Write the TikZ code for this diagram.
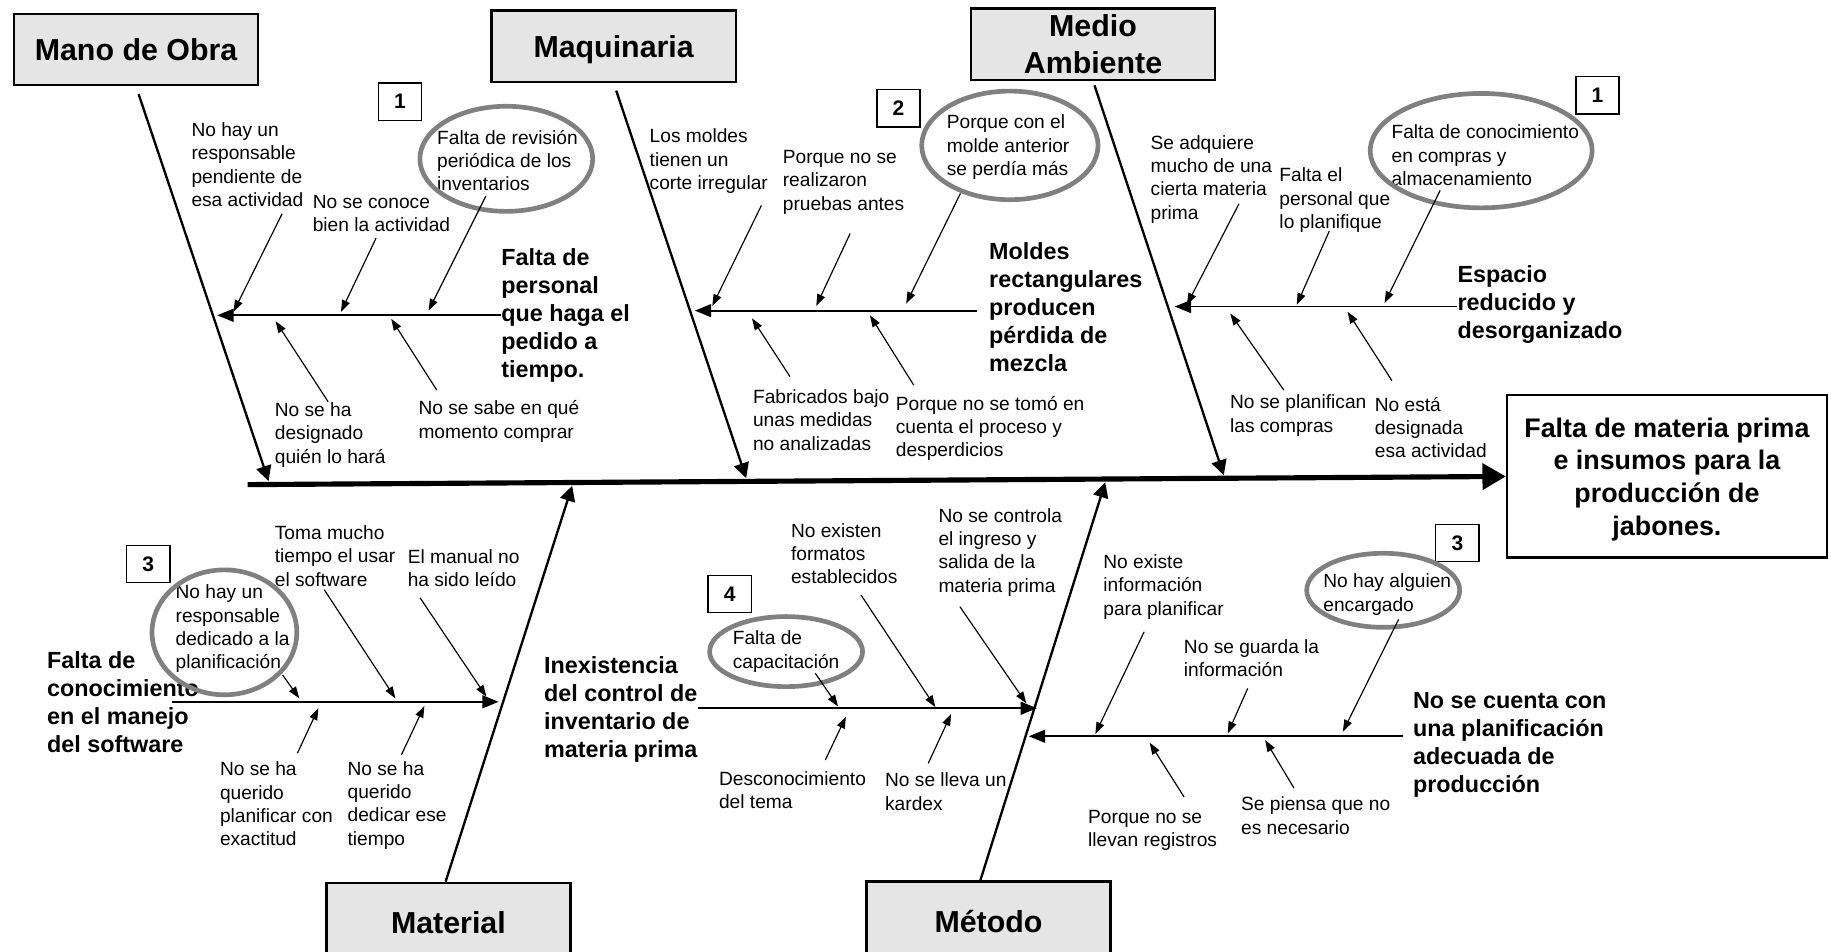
\documentclass[tikz,border=0pt]{standalone}
\usepackage{fontspec}
\setmainfont{Liberation Sans}
\usetikzlibrary{arrows.meta}
\tikzstyle{category} = [rectangle, draw, line width=1pt, fill=black!10, minimum width=104.5pt,
    minimum height=30.5pt, inner sep=0pt, text depth=0pt, align=center, font=\fontsize{13}{15.5}\selectfont\bfseries]
\tikzstyle{effect} = [rectangle, draw, line width=1pt, minimum width=137pt, minimum height=69.5pt,
    inner sep=0pt, text depth=0pt, align=center, font=\fontsize{11.5}{14}\selectfont\bfseries]
\tikzstyle{subcause} = [anchor=west, inner sep=0pt, align=left, font=\fontsize{10}{12}\selectfont\bfseries]
\tikzstyle{cause} = [anchor=west, inner sep=0pt, align=left, font=\fontsize{8.2}{10}\selectfont]
\tikzstyle{tag} = [rectangle, draw, line width=0.6pt, minimum width=18.5pt, minimum height=16pt,
    inner sep=0pt, font=\fontsize{9}{10}\selectfont\bfseries]
\tikzstyle{ring} = [draw=black!50, line width=2pt]
\tikzstyle{spine} = [draw, line width=2.2pt, -{Triangle[length=10pt,width=11pt]}]
\tikzstyle{bone} = [draw, line width=1pt, -{Triangle[length=6.5pt,width=6.5pt]}]
\tikzstyle{branch} = [draw, line width=0.8pt, -{Triangle[length=7pt,width=5.5pt]}]
\tikzstyle{twig} = [draw, line width=0.5pt, -{Triangle[length=5pt,width=3.5pt]}]
\begin{document}
\begin{tikzpicture}[x=0.5pt, y=-0.5pt]
\useasboundingbox (0,0) rectangle (1568,815);

%% Place category boxes and the problem
\node [category] (manoObra) at (116.5,42.5) {Mano de Obra};
\node [category] (maquinaria) at (525.5,39.5) {Maquinaria};
\node [category] (medioAmbiente) at (936,37.75) {Medio\\Ambiente};
\node [category, minimum height=34pt] (material) at (384,790) {Material};
\node [category, minimum height=34pt] (metodo) at (846.5,789) {Método};
\node [effect] (problema) at (1427.5,408) {Falta de materia prima\\e insumos para la\\producción de\\jabones.};

%% Spine and main bones
\coordinate (spineStart) at (212,415);
\coordinate (manoTip) at (230,412);
\coordinate (maquinariaTip) at (639,409.5);
\coordinate (medioTip) at (1048,407);
\coordinate (materialTip) at (490,416);
\coordinate (metodoTip) at (946.5,413);
\path [spine] (spineStart) -- (problema.west);
\path [bone, shorten <=3.5pt] (manoObra.south) -- (manoTip);
\path [bone, shorten <=3.5pt] (maquinaria.south) -- (maquinariaTip);
\path [bone, shorten <=2pt] (medioAmbiente.south) -- (medioTip);
\path [bone] ([xshift=-1.2pt]material.north) -- (materialTip);
\path [bone] ([xshift=-3.5pt]metodo.north) -- (metodoTip);

%% Mano de Obra
\coordinate (personalTip) at (186,270);
\node [subcause] (personal) at (429,270) {Falta de\\personal\\que haga el\\pedido a\\tiempo.};
\node [cause] (noResponsable) at (163.6,141) {No hay un\\responsable\\pendiente de\\esa actividad};
\node [cause] (noConoce) at (267.5,183) {No se conoce\\bien la actividad};
\node [cause] (revision) at (374,137.5) {Falta de revisión\\periódica de los\\inventarios};
\node [cause] (noDesignado) at (235,372.5) {No se ha\\designado\\quién lo hará};
\node [cause] (noSabe) at (358,361) {No se sabe en qué\\momento comprar};
\node [tag] (tagManoObra) at (342.5,87) {1};
\draw [ring] ([shift={(-1,-1.5)}]revision.center) ellipse [x radius=37pt, y radius=22.5pt];
\path [branch] (personal.west |- personalTip) -- (personalTip);
\path [twig] ([shift={(78,42)}]noResponsable.west) -- ([shift={(14,-3)}]personalTip);
\path [twig] ([shift={(54.5,21)}]noConoce.west) -- ([shift={(106,-3)}]personalTip);
\path [twig] ([shift={(42,30.5)}]revision.west) -- ([shift={(181,-4)}]personalTip);
\path [twig] ([shift={(46,-28.5)}]noDesignado.west) -- ([shift={(50,5)}]personalTip);
\path [twig] ([shift={(16,-27)}]noSabe.west) -- ([shift={(149,3)}]personalTip);

%% Maquinaria
\coordinate (moldesTip) at (595,266);
\node [subcause] (moldes) at (846.7,263) {Moldes\\rectangulares\\producen\\pérdida de\\mezcla};
\node [cause] (corte) at (556,138) {Los moldes\\tienen un\\corte irregular};
\node [cause] (noPruebas) at (670,156) {Porque no se\\realizaron\\pruebas antes};
\node [cause] (moldeAnterior) at (810.5,126) {Porque con el\\molde anterior\\se perdía más};
\node [cause] (medidas) at (644.5,359.5) {Fabricados bajo\\unas medidas\\no analizadas};
\node [cause] (noProceso) at (766.8,367) {Porque no se tomó en\\cuenta el proceso y\\desperdicios};
\node [tag] (tagMaquinaria) at (769.5,92.7) {2};
\draw [ring] ([shift={(1.5,-1.5)}]moldeAnterior.center) ellipse [x radius=37.75pt, y radius=23.25pt];
\path [branch, shorten <=5pt] (moldes.west |- moldesTip) -- (moldesTip);
\path [twig] ([shift={(96,38)}]corte.west) -- ([shift={(15,-4)}]moldesTip);
\path [twig] ([shift={(58,44)}]noPruebas.west) -- ([shift={(104,-4)}]moldesTip);
\path [twig] ([shift={(12,39.6)}]moldeAnterior.west) -- ([shift={(181,-6)}]moldesTip);
\path [twig] ([shift={(32,-37)}]medidas.west) -- ([shift={(49,6.6)}]moldesTip);
\path [twig] ([shift={(15.6,-37.3)}]noProceso.west) -- ([shift={(150,4)}]moldesTip);

%% Medio Ambiente
\coordinate (espacioTip) at (1006,262.5);
\node [subcause] (espacio) at (1247.8,261) {Espacio\\reducido y\\desorganizado};
\node [cause] (adquiere) at (985,153.5) {Se adquiere\\mucho de una\\cierta materia\\prima};
\node [cause] (faltaPersonal) at (1095.3,171.5) {Falta el\\personal que\\lo planifique};
\node [cause] (compras) at (1191.3,133) {Falta de conocimiento\\en compras y\\almacenamiento};
\node [cause] (noPlanifican) at (1053,356) {No se planifican\\las compras};
\node [cause] (noDesignada) at (1177,366) {No está\\designada\\esa actividad};
\node [tag] (tagMedio) at (1368,81.6) {1};
\draw [ring] ([shift={(-3.5,-4)}]compras.center) ellipse [x radius=47.5pt, y radius=24.5pt];
\path [branch] (espacio.west |- espacioTip) -- (espacioTip);
\path [twig] ([shift={(76,21)}]adquiere.west) -- ([shift={(10.4,-1.5)}]espacioTip);
\path [twig] ([shift={(43,26.5)}]faltaPersonal.west) -- ([shift={(104.5,-1.5)}]espacioTip);
\path [twig] ([shift={(42,30)}]compras.west) -- ([shift={(179.7,-3)}]espacioTip);
\path [twig] ([shift={(46.4,-22)}]noPlanifican.west) -- ([shift={(47.6,6)}]espacioTip);
\path [twig] ([shift={(15,-40)}]noDesignada.west) -- ([shift={(148,4.5)}]espacioTip);

%% Material
\coordinate (softwareStart) at (147,601);
\coordinate (softwareTip) at (427,601);
\node [subcause] (software) at (40,601) {Falta de\\conocimiento\\en el manejo\\del software};
\node [cause] (responsablePlan) at (150,538.5) {No hay un\\responsable\\dedicado a la\\planificación};
\node [cause] (tomaTiempo) at (235,476) {Toma mucho\\tiempo el usar\\el software};
\node [cause] (manual) at (348.8,486.5) {El manual no\\ha sido leído};
\node [cause] (noExactitud) at (188,688.5) {No se ha\\querido\\planificar con\\exactitud};
\node [cause] (noTiempo) at (297.3,689.5) {No se ha\\querido\\dedicar ese\\tiempo};
\node [tag] (tagMaterial) at (127,483) {3};
\draw [ring] ([shift={(-7,3)}]responsablePlan.center) ellipse [x radius=31pt, y radius=26.75pt];
\path [branch] (softwareStart) -- (softwareTip);
\path [twig] ([shift={(92,39.5)}]responsablePlan.west) -- ([shift={(-170.7,-3)}]softwareTip);
\path [twig] ([shift={(42.7,29)}]tomaTiempo.west) -- ([shift={(-88.4,-3)}]softwareTip);
\path [twig] ([shift={(11,25.5)}]manual.west) -- ([shift={(-10.5,-4.4)}]softwareTip);
\path [twig] ([shift={(66.7,-43.5)}]noExactitud.west) -- ([shift={(-154.4,5.5)}]softwareTip);
\path [twig] ([shift={(46.4,-43)}]noTiempo.west) -- ([shift={(-63.6,3.5)}]softwareTip);

%% Método: control de inventario
\coordinate (inventarioTip) at (888,606.5);
\node [subcause] (inventario) at (465.6,607.3) {Inexistencia\\del control de\\inventario de\\materia prima};
\node [cause] (capacitacion) at (627.2,558) {Falta de\\capacitación};
\node [cause] (formatos) at (677,474) {No existen\\formatos\\establecidos};
\node [cause] (noControla) at (803.3,473) {No se controla\\el ingreso y\\salida de la\\materia prima};
\node [cause] (desconocimiento) at (615.4,676.5) {Desconocimiento\\del tema};
\node [cause] (kardex) at (757.6,678) {No se lleva un\\kardex};
\node [tag] (tagInventario) at (624.8,508.6) {4};
\draw [ring] (capacitacion.center) ellipse [x radius=32.75pt, y radius=15pt];
\path [branch] (inventario.east |- inventarioTip) -- (inventarioTip);
\path [twig] ([shift={(71,18.6)}]capacitacion.west) -- ([shift={(-170.3,-1.5)}]inventarioTip);
\path [twig] ([shift={(60.3,35.5)}]formatos.west) -- ([shift={(-87,-1)}]inventarioTip);
\path [twig] ([shift={(18.7,46.5)}]noControla.west) -- ([shift={(-9.1,-4.2)}]inventarioTip);
\path [twig] ([shift={(91.4,-25.7)}]desconocimiento.west) -- ([shift={(-163.6,7.2)}]inventarioTip);
\path [twig] ([shift={(37.3,-24.3)}]kardex.west) -- ([shift={(-73.5,4.9)}]inventarioTip);

%% Método: planificación
\coordinate (planTip) at (881,630.5);
\node [subcause] (planificacion) at (1209.7,637.5) {No se cuenta con\\una planificación\\adecuada de\\producción};
\node [cause] (noInfo) at (944.5,502.5) {No existe\\información\\para planificar};
\node [cause] (noGuarda) at (1013.5,563.5) {No se guarda la\\información};
\node [cause] (noAlguien) at (1132.9,509) {No hay alguien\\encargado};
\node [cause] (noRegistros) at (931.5,711) {Porque no se\\llevan registros};
\node [cause] (noNecesario) at (1062.5,698.5) {Se piensa que no\\es necesario};
\node [tag] (tagPlan) at (1248,465) {3};
\draw [ring] ([shift={(-3.5,-3.5)}]noAlguien.center) ellipse [x radius=32.75pt, y radius=15.85pt];
\path [branch, shorten <=4pt] (planificacion.west |- planTip) -- (planTip);
\path [twig] ([shift={(35.3,38.5)}]noInfo.west) -- ([shift={(57,-2)}]planTip);
\path [twig] ([shift={(55,26)}]noGuarda.west) -- ([shift={(170.4,-2.5)}]planTip);
\path [twig] ([shift={(64.8,21.4)}]noAlguien.west) -- ([shift={(269,-4)}]planTip);
\path [twig] ([shift={(82.5,-28.5)}]noRegistros.west) -- ([shift={(103.5,5.5)}]planTip);
\path [twig] ([shift={(45.7,-23.5)}]noNecesario.west) -- ([shift={(202.4,3.2)}]planTip);
\end{tikzpicture}
\end{document}
